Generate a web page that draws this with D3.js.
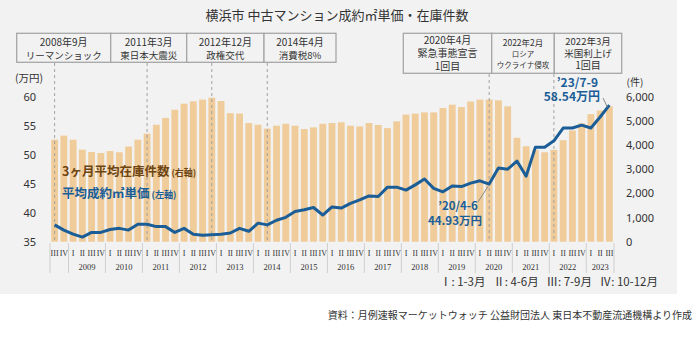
<!DOCTYPE html>
<html><head><meta charset="utf-8">
<script src="https://cdn.jsdelivr.net/npm/d3@7"></script>
<style>
body{margin:0;background:#fff;}
svg{display:block;font-family:"Noto Sans CJK JP","Noto Sans",sans-serif;}
</style></head><body>
<svg id="c" width="697" height="337"></svg>
<script>
// ---------- data ----------
const years = [2008,2009,2010,2011,2012,2013,2014,2015,2016,2017,2018,2019,2020,2021,2022,2023];
const quarterNames = ["I","II","III","IV"];
// 2008 Q3 .. 2023 Q3
const inventory = [
  4220,4390,
  4220,3810,3710,3670,
  3750,3700,3940,4220,
  4470,4840,5120,5460,
  5710,5810,5880,5960,
  5820,5320,5300,4910,
  4840,4680,4800,4880,
  4800,4660,4730,4880,
  4910,4940,4800,4770,
  4910,4830,4700,4980,
  5260,5300,5350,5350,
  5530,5670,5570,5800,
  5880,5880,5850,5600,
  4300,3950,3800,3700,
  3800,4200,4600,4900,
  5280,5430,5600
];
const price = [
  37.9,37.0,
  36.3,35.8,36.6,36.6,
  37.1,37.3,37.0,38.0,
  38.0,37.6,37.6,36.6,
  37.3,36.3,36.1,36.2,
  36.3,36.5,37.3,36.8,
  38.2,37.9,38.7,39.2,
  40.2,40.5,40.9,39.6,
  41.0,40.8,41.6,42.2,
  42.9,42.8,44.4,44.4,
  43.9,44.8,45.8,44.2,
  43.6,44.6,44.5,45.1,
  45.5,44.93,47.7,47.5,
  48.9,46.3,51.3,51.3,
  52.4,54.6,54.6,55.1,
  54.6,56.5,58.54
];
const leftTicks = [35,40,45,50,55,60];
const rightTicks = [0,1000,2000,3000,4000,5000,6000];
const eventLinesL = [["2008年9月","リーマンショック"],["2011年3月","東日本大震災"],["2012年12月","政権交代"],["2014年4月","消費税8%"]];
const eventPeriodsL = ["2008-III","2011-I","2012-IV","2014-II"];
const eventLinesR = [["2020年4月","緊急事態宣言","1回目"],["2022年2月","ロシア","ウクライナ侵攻"],["2022年3月","米国利上げ","1回目"]];
const eventPeriodsR = ["2020-II","2022-I"];

// periods
const periods = [];
years.forEach(y => quarterNames.forEach((q,qi) => {
  const idx = (y-2008)*4+qi;
  if (idx >= 2 && idx <= 62) periods.push({key:y+"-"+q, year:y, q:q});
}));
const rows = periods.map((p,i)=>({...p, inv:inventory[i], price:price[i]}));

// ---------- layout ----------
const svg = d3.select("#c");
const yTop = 96.7, yBot = 241.7;
svg.append("rect").attr("x",0).attr("y",0).attr("width",677).attr("height",294).attr("fill","#f2f2f2");

const x = d3.scaleBand().domain(periods.map(p=>p.key)).range([50,614]).paddingInner(0.26).paddingOuter(0.13);
const yL = d3.scaleLinear().domain([35,60]).range([yBot,yTop]);
const yR = d3.scaleLinear().domain([0,6000]).range([yBot,yTop]);
const cx = k => x(k)+x.bandwidth()/2;

// title
svg.append("text").attr("x",337).attr("y",20).attr("text-anchor","middle")
  .attr("font-size",13).attr("fill","#333").text("横浜市 中古マンション成約㎡単価・在庫件数");

function multiText(mx, ys, sizes, lines){
  const t = svg.append("text").attr("text-anchor","middle").attr("fill","#333");
  lines.forEach((s,j)=>t.append("tspan").attr("x",mx).attr("y",ys[j]).attr("font-size",sizes[j]).text(s));
}

// left event boxes
const boxL = [16.7,110.7,186.7,264,336];
eventLinesL.forEach((ls,i)=>{
  svg.append("rect").attr("x",boxL[i]).attr("y",33.3).attr("width",boxL[i+1]-boxL[i]).attr("height",29)
    .attr("fill","#f2f2f2").attr("stroke","#a6a6a6").attr("stroke-width",1.3);
  multiText((boxL[i]+boxL[i+1])/2,[45.5,58.8],[10,9.5],ls);
});
// right event boxes
const boxR = [403.3,491.7,554.3,621.7];
const rSizes = [[10,10,10],[8.5,7.5,7.5],[9.5,9.5,10]];
const rY = [[44,56.8,69.6],[45.5,56.5,67.5],[44.5,56.5,69.3]];
eventLinesR.forEach((ls,i)=>{
  svg.append("rect").attr("x",boxR[i]).attr("y",33.3).attr("width",boxR[i+1]-boxR[i]).attr("height",40)
    .attr("fill","#f2f2f2").attr("stroke","#a6a6a6").attr("stroke-width",1.3);
  multiText((boxR[i]+boxR[i+1])/2, rY[i], rSizes[i], ls);
});

// bars
svg.append("g").selectAll("rect").data(rows).join("rect")
  .attr("x",d=>x(d.key)).attr("width",x.bandwidth())
  .attr("y",d=>yR(d.inv)).attr("height",d=>yBot-yR(d.inv))
  .attr("fill","#efcc99");

// dotted event lines
eventPeriodsL.forEach(k=>svg.append("line").attr("x1",cx(k)).attr("x2",cx(k)).attr("y1",63).attr("y2",yBot)
  .attr("stroke","#a0a0a0").attr("stroke-width",1).attr("stroke-dasharray","3,3"));
eventPeriodsR.forEach(k=>svg.append("line").attr("x1",cx(k)).attr("x2",cx(k)).attr("y1",74).attr("y2",yBot)
  .attr("stroke","#a0a0a0").attr("stroke-width",1).attr("stroke-dasharray","3,3"));

// line
svg.append("path").datum(rows).attr("fill","none").attr("stroke","#1b5e97").attr("stroke-width",3)
  .attr("stroke-linejoin","round")
  .attr("d",d3.line().x(d=>cx(d.key)).y(d=>yL(d.price)));

// axes
const axL = svg.append("g").attr("transform","translate(38,0)")
  .call(d3.axisLeft(yL).tickValues(leftTicks).tickSize(0).tickPadding(2));
axL.select(".domain").remove();
axL.selectAll("text").attr("font-size",11).attr("fill","#333").attr("font-family","'Noto Sans',sans-serif");
svg.append("text").attr("x",29).attr("y",82).attr("text-anchor","middle").attr("font-size",10.5).attr("fill","#333").text("(万円)");

const axR = svg.append("g").attr("transform","translate(624,0)")
  .call(d3.axisRight(yR).tickValues(rightTicks).tickFormat(d3.format(",")).tickSize(0).tickPadding(2));
axR.select(".domain").remove();
axR.selectAll("text").attr("font-size",11).attr("fill","#333").attr("font-family","'Noto Sans',sans-serif");
svg.append("text").attr("x",635).attr("y",86).attr("text-anchor","middle").attr("font-size",10).attr("fill","#333").text("(件)");

// category axis
const serif = "'Liberation Serif','DejaVu Serif',serif";
svg.append("g").selectAll("text").data(rows).join("text")
  .attr("x",d=>cx(d.key)).attr("y",255.5).attr("text-anchor","middle")
  .attr("font-size",8).attr("font-family",serif).attr("fill","#333").text(d=>d.q);
const yearGroups = d3.groups(rows,d=>d.year);
const seps = [x(rows[0].key)-x.step()*x.paddingInner()/2];
yearGroups.forEach(([yr,ps])=>{
  const x1 = x(ps[ps.length-1].key)+x.bandwidth()+x.step()*x.paddingInner()/2;
  seps.push(x1);
  if (yr>2008) {
    const m=(cx(ps[0].key)+cx(ps[ps.length-1].key))/2;
    svg.append("text").attr("x",m).attr("y",270).attr("text-anchor","middle").attr("font-size",8.5)
      .attr("font-family",serif).attr("fill","#333").text(yr);
  }
});
svg.append("g").selectAll("line").data(seps).join("line")
  .attr("x1",d=>d).attr("x2",d=>d).attr("y1",243).attr("y2",273)
  .attr("stroke","#cfcfcf").attr("stroke-width",1);

// legend labels inside
const brown="#6e4512", blue="#1b5e97";
const t1 = svg.append("text").attr("x",62).attr("y",176).attr("font-weight","bold").attr("fill",brown);
t1.append("tspan").attr("font-size",12.5).text("3ヶ月平均在庫件数");
t1.append("tspan").attr("font-size",9).attr("dx",2).text("(右軸)");
const t2 = svg.append("text").attr("x",62).attr("y",197.5).attr("font-weight","bold").attr("fill",blue);
t2.append("tspan").attr("font-size",12.5).text("平均成約㎡単価");
t2.append("tspan").attr("font-size",9).attr("dx",2).text("(左軸)");

// value callouts
const last = rows[rows.length-1], cov = rows.find(d=>d.key==="2020-II");
const c1 = svg.append("text").attr("text-anchor","end").attr("font-weight","bold").attr("fill",blue).attr("font-size",12);
c1.append("tspan").attr("x",598).attr("y",86.5).text("’23/7-9");
c1.append("tspan").attr("x",600).attr("y",101).text(last.price.toFixed(2)+"万円");
svg.append("line").attr("x1",603).attr("y1",98).attr("x2",cx(last.key)-2).attr("y2",yL(last.price)+2).attr("stroke","#888").attr("stroke-width",1);
const c2 = svg.append("text").attr("text-anchor","middle").attr("font-weight","bold").attr("fill",blue).attr("font-size",11.5);
c2.append("tspan").attr("x",458).attr("y",209.5).text("’20/4-6");
c2.append("tspan").attr("x",455).attr("y",224.5).text(cov.price.toFixed(2)+"万円");
svg.append("line").attr("x1",478).attr("y1",202).attr("x2",cx(cov.key)-1).attr("y2",yL(cov.price)+2).attr("stroke","#888").attr("stroke-width",1);

// notes
svg.append("text").attr("x",658).attr("y",286).attr("text-anchor","end").attr("font-size",11.5).attr("fill","#333")
  .attr("xml:space","preserve").text("Ⅰ: 1-3月   Ⅱ: 4-6月   Ⅲ: 7-9月   Ⅳ: 10-12月");
svg.append("text").attr("x",692).attr("y",319).attr("text-anchor","end").attr("font-size",10).attr("fill","#333")
  .text("資料：月例速報マーケットウォッチ 公益財団法人 東日本不動産流通機構より作成");
</script>
</body></html>
